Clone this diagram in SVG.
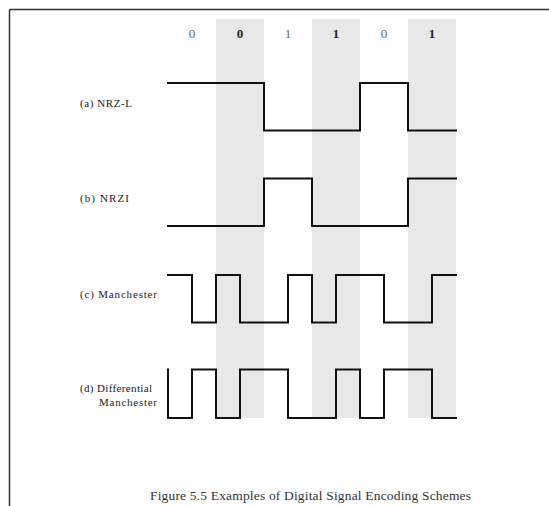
<svg xmlns="http://www.w3.org/2000/svg" width="549" height="506" viewBox="0 0 549 506">
<style>
.bg{fill:#e8e8e8}
.sig{fill:none;stroke:#111;stroke-width:2;stroke-linejoin:miter;stroke-linecap:square}
.lbl{font-family:"Liberation Serif","Times New Roman",serif;font-size:11px;fill:#222}
.bit{font-family:"Liberation Serif","Times New Roman",serif;font-size:13px;fill:#666;text-anchor:middle}
.bitb{font-family:"Liberation Serif","Times New Roman",serif;font-size:13px;fill:#222;font-weight:bold;text-anchor:middle}
.cap{font-family:"Liberation Serif","Times New Roman",serif;font-size:13.5px;fill:#333}
</style>
<rect x="0" y="0" width="549" height="506" fill="#fff"/>
<g id="frame">
<line x1="9.5" y1="9.5" x2="549" y2="9.5" stroke="#333" stroke-width="1.5"/>
<line x1="9.5" y1="9.5" x2="9.5" y2="506" stroke="#333" stroke-width="1.5"/>
</g>
<g id="columns">
<rect class="bg" x="216" y="19" width="48" height="399"/>
<rect class="bg" x="312" y="19" width="48" height="399"/>
<rect class="bg" x="408" y="19" width="48" height="399"/>
</g>
<g id="bits">
<text class="bit" x="192" y="38">0</text>
<text class="bitb" x="240" y="38">0</text>
<text class="bit" x="288" y="38">1</text>
<text class="bitb" x="336" y="38">1</text>
<text class="bit" x="384" y="38">0</text>
<text class="bitb" x="432" y="38">1</text>
</g>
<g id="nrzl">
<text class="lbl" x="80" y="107" textLength="52" lengthAdjust="spacing">(a) NRZ-L</text>
<path class="sig" d="M168,83 H264 V130.5 H360 V83 H408 V130.5 H456"/>
</g>
<g id="nrzi">
<text class="lbl" x="80" y="202" textLength="49" lengthAdjust="spacing">(b) NRZI</text>
<path class="sig" d="M168,226 H264 V178.5 H312 V226 H408 V178.5 H456"/>
</g>
<g id="manchester">
<text class="lbl" x="80" y="298" textLength="77" lengthAdjust="spacing">(c) Manchester</text>
<path class="sig" d="M168,275 H192 V322.5 H216 V275 H240 V322.5 H288 V275 H312 V322.5 H336 V275 H384 V322.5 H432 V275 H456"/>
</g>
<g id="diffmanchester">
<text class="lbl" x="80" y="392" textLength="72" lengthAdjust="spacing">(d) Differential</text>
<text class="lbl" x="99" y="406" textLength="58" lengthAdjust="spacing">Manchester</text>
<path class="sig" d="M168,369.5 V418 H192 V369.5 H216 V418 H240 V369.5 H288 V418 H336 V369.5 H360 V418 H384 V369.5 H432 V418 H456"/>
</g>
<g id="caption">
<text class="cap" x="150" y="500" textLength="321" lengthAdjust="spacing">Figure 5.5  Examples of Digital Signal Encoding Schemes</text>
</g>
</svg>
